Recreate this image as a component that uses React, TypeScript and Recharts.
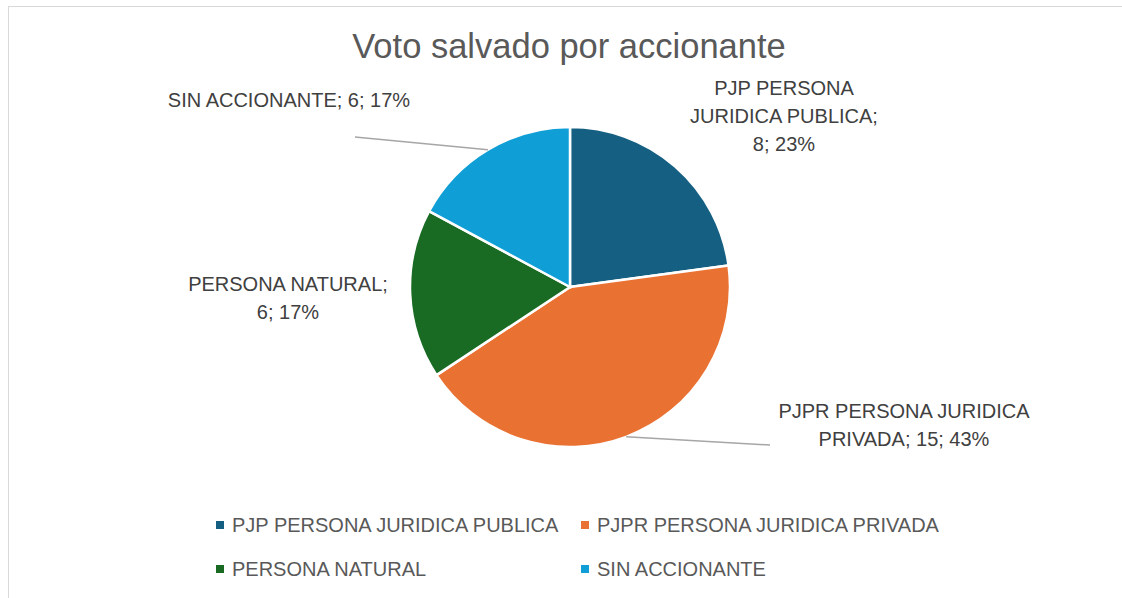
import React from 'react';
import { PieChart, Pie, Cell, Legend } from 'recharts';

const title = 'Voto salvado por accionante';
const categories = [
  'PJP PERSONA JURIDICA PUBLICA',
  'PJPR PERSONA JURIDICA PRIVADA',
  'PERSONA NATURAL',
  'SIN ACCIONANTE',
];
const values = [8, 15, 6, 6];
const colors = ['#156082', '#E97132', '#196B24', '#0F9ED5'];

const data = categories.map((name, i) => ({ name, value: values[i] }));
const total = values.reduce((a, b) => a + b, 0);

const FONT = '"Liberation Sans", Arial, sans-serif';
const W = 1122;
const H = 598;
const CX = 570;
const CY = 287;
const R = 160;

// label placement relative to the pie centre (text = centre of first line), wrap width in characters,
// optional leader line end point
const labelLayout: { dx: number; dy: number; wrap: number; line: number[] | null }[] = [
  { dx: 214, dy: -199, wrap: 17, line: null },
  { dx: 334, dy: 124, wrap: 21, line: [200, 158] },
  { dx: -282, dy: -3, wrap: 16, line: null },
  { dx: -281, dy: -187, wrap: 30, line: [-215, -150] },
];

function wrapText(text: string, max: number): string[] {
  const words = text.split(' ');
  const lines: string[] = [];
  let cur = '';
  for (const w of words) {
    const t = cur ? cur + ' ' + w : w;
    if (t.length > max && cur) {
      lines.push(cur);
      cur = w;
    } else cur = t;
  }
  if (cur) lines.push(cur);
  return lines;
}

const RAD = Math.PI / 180;

const renderLabel = (props: any) => {
  const { cx, cy, midAngle, outerRadius, index, value } = props;
  const name = props.payload?.name ?? props.name;
  const L = labelLayout[index];
  const ex = cx + outerRadius * Math.cos(-midAngle * RAD);
  const ey = cy + outerRadius * Math.sin(-midAngle * RAD);
  const pct = Math.round((value / total) * 100);
  const lines = wrapText(`${name}; ${value}; ${pct}%`, L.wrap);
  const tx = cx + L.dx;
  const ty = cy + L.dy;
  return (
    <g key={`lbl-${index}`}>
      {L.line && (
        <path
          d={`M${ex},${ey}L${cx + L.line[0]},${cy + L.line[1]}`}
          stroke="#a6a6a6"
          strokeWidth={1.5}
          fill="none"
        />
      )}
      <text textAnchor="middle" fill="#404040" fontSize={20} fontFamily={FONT}>
        {lines.map((ln, i) => (
          <tspan key={i} x={tx} y={ty + i * 28} dominantBaseline="central">
            {ln}
          </tspan>
        ))}
      </text>
    </g>
  );
};

const renderLegend = (props: any) => {
  const payload = [...(props.payload || [])].sort(
    (a: any, b: any) => categories.indexOf(a.value) - categories.indexOf(b.value)
  );
  return (
    <div style={{ position: 'relative', width: W, height: H }}>
      {payload.map((p: any, i: number) => {
        const col = i % 2;
        const row = Math.floor(i / 2);
        const left = 216 + col * 365;
        const centerY = 525 + row * 44;
        return (
          <div
            key={i}
            style={{
              position: 'absolute',
              left,
              top: centerY - 10,
              height: 20,
              display: 'flex',
              alignItems: 'center',
              whiteSpace: 'nowrap',
              fontFamily: FONT,
              fontSize: 20,
              color: '#595959',
              lineHeight: '20px',
            }}
          >
            <span
              style={{
                display: 'inline-block',
                width: 8,
                height: 8,
                background: p.color,
                marginRight: 8,
              }}
            />
            <span>{p.value}</span>
          </div>
        );
      })}
    </div>
  );
};

export default function App() {
  return (
    <div style={{ position: 'relative', width: W, height: H, overflow: 'hidden', background: '#fff' }}>
      <style>{'body{margin:0;overflow:hidden;}'}</style>
      <div
        style={{
          position: 'absolute',
          left: 8,
          top: 6,
          width: 1200,
          height: 700,
          border: '1.5px solid #d9d9d9',
          boxSizing: 'border-box',
        }}
      />
      <div
        style={{
          position: 'absolute',
          left: 0,
          top: 46 - 17,
          width: 1138,
          textAlign: 'center',
          fontFamily: FONT,
          fontSize: 34.5,
          lineHeight: '34px',
          color: '#595959',
        }}
      >
        {title}
      </div>
      <div style={{ position: 'absolute', left: 0, top: 0 }}>
        <PieChart width={W} height={H} margin={{ top: 0, right: 0, bottom: 0, left: 0 }}>
          <Pie
            data={data}
            dataKey="value"
            nameKey="name"
            cx={CX}
            cy={CY}
            outerRadius={R}
            startAngle={90}
            endAngle={-270}
            stroke="#ffffff"
            strokeWidth={2.5}
            label={renderLabel}
            labelLine={false}
            isAnimationActive={false}
          >
            {data.map((d, i) => (
              <Cell key={d.name} fill={colors[i]} />
            ))}
          </Pie>
          <Legend
            content={renderLegend}
            wrapperStyle={{ position: 'absolute', left: 0, top: 0, width: W, height: H, pointerEvents: 'none' }}
          />
        </PieChart>
      </div>
    </div>
  );
}
